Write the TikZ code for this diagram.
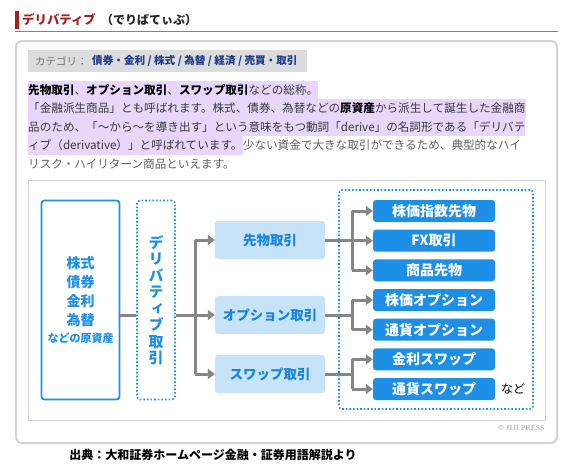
\documentclass[tikz,border=0pt]{standalone}
\usepackage{fontspec}
\setmainfont{Noto Sans CJK JP}
\newfontfamily\vertfont[RawFeature=+vert]{Noto Sans CJK JP}
\newfontfamily\credfont{Liberation Serif}
\usetikzlibrary{arrows.meta}
\definecolor{hdred}{HTML}{A3201B}
\definecolor{lnred}{HTML}{D9605A}
\definecolor{framegray}{HTML}{D4D4D4}
\definecolor{catgray}{HTML}{DCDCDC}
\definecolor{catblue}{HTML}{1F3C8C}
\definecolor{bodytext}{HTML}{3A3A3A}
\definecolor{hlpurple}{HTML}{E8D6FB}
\definecolor{dblue}{HTML}{1E8FE6}
\definecolor{midfill}{HTML}{C6E3F8}
\definecolor{midtext}{HTML}{1A84DA}
\definecolor{arrgray}{HTML}{868686}
\newcommand{\fsz}[1]{\fontsize{#1}{#1}\selectfont}

\begin{document}
\begin{tikzpicture}[x=1pt, y=-1pt,
    txt/.style={inner sep=0pt, anchor=west},
    parline/.style={txt, text=bodytext, font=\fsz{11.6}, minimum height=18.5pt},
    hlline/.style={parline, fill=hlpurple},
    conn/.style={draw=arrgray, line width=3pt},
    arr/.style={conn, -{Triangle[length=7pt, width=10pt]}},
    srcbox/.style={draw=dblue, line width=1.8pt, rounded corners=3pt, fill=white,
        minimum width=78pt, minimum height=199pt, align=center, text=dblue,
        font=\bfseries\fontsize{14}{19}\selectfont},
    groupbox/.style={draw=dblue, line width=1.6pt, dotted, rounded corners=3pt},
    typebox/.style={fill=midfill, rounded corners=3pt, minimum width=110pt,
        minimum height=38pt, text=midtext, font=\bfseries\fsz{13.5}},
    itembox/.style={fill=dblue, rounded corners=3pt, minimum width=122pt,
        minimum height=22pt, text=white, font=\bfseries\fsz{14}}]
  \useasboundingbox (0,0) rectangle (575,471);
  \fill[white] (0,0) rectangle (575,471);

  \fill[hdred] (15,11) rectangle (18.5,29);
  \node[txt, text=hdred, font=\bfseries\fsz{12.4}] (title) at (22,20) {デリバティブ};
  \node[txt, text=black!85, font=\bfseries\fsz{12}] (yomi) at (101,20) {（でりばてぃぶ）};
  \draw[lnred, line width=1pt] (15,31) -- (558,31);

  \draw[framegray, line width=2pt, rounded corners=6pt] (16,41) rectangle (557,443);

  \fill[catgray] (28,50) rectangle (307,72);
  \node[txt, text=black!55, font=\fsz{10.5}] (catlabel) at (35,61) {カテゴリ：};
  \node[txt, text=catblue, font=\bfseries\fsz{10.6}] (catlist) at (92,61)
    {債券・金利 / 株式 / 為替 / 経済 / 売買・取引};

  \node[hlline] (p1) at (28,90)
    {\textbf{\color{black}先物取引}、\textbf{\color{black}オプション取引}、\textbf{\color{black}スワップ取引}などの総称。};
  \node[hlline] (p2) at (28,108.5)
    {「金融派生商品」とも呼ばれます。株式、債券、為替などの\textbf{\color{black}原資産}から派生して誕生した金融商};
  \node[hlline] (p3) at (28,127)
    {品のため、「～から～を導き出す」という意味をもつ動詞「derive」の名詞形である「デリバテ};
  \node[hlline] (p4) at (28,145.5) {ィブ（derivative）」と呼ばれています。};
  \node[parline, text=black!62] (p4b) at (p4.east) {少ない資金で大きな取引ができるため、典型的なハイ};
  \node[parline, text=black!62] (p5) at (28,164) {リスク・ハイリターン商品といえます。};

  \draw[framegray, line width=1pt] (28,180) rectangle (545,420);

  \node[srcbox] (assets) at (80.5,300)
    {株式\\債券\\金利\\為替\\[-2pt]{\fsz{11}などの原資産}};
  \node[groupbox, minimum width=38pt, minimum height=199pt, align=center, text=dblue,
    font=\vertfont\bfseries\fontsize{15}{16.5}\selectfont] (deriv) at (156,300)
    {デ\\リ\\バ\\テ\\ィ\\ブ\\取\\引};

  \node[typebox] (fut) at (270,240) {先物取引};
  \node[typebox] (opt) at (270,315) {オプション取引};
  \node[typebox] (swp) at (270,374) {スワップ取引};

  \node[groupbox, minimum width=194pt, minimum height=219pt] (items) at (436,299.5) {};
  \foreach \nm/\lbl [count=\i from 0] in {idx/株価指数先物, fx/FX取引, cmd/商品先物,
      sopt/株価オプション, copt/通貨オプション, irs/金利スワップ, ccs/通貨スワップ}
    \node[itembox] (\nm) at (434,211+29.67*\i) {\lbl};
  \node[txt, text=black, font=\fsz{12}] (nado) at (501,389) {など};

  \coordinate (b1) at (195,315);
  \coordinate (b2) at (352,240);
  \draw[conn] (assets.east |- opt) -- (deriv.west |- opt);
  \draw[conn] (deriv.east |- opt) -- (b1);
  \draw[conn] (b1 |- fut) -- (b1 |- swp);
  \draw[arr] (b1 |- fut) -- (fut);
  \draw[arr] (b1) -- (opt);
  \draw[arr] (b1 |- swp) -- (swp);

  \draw[conn] (fut) -- (b2);
  \draw[conn] (b2 |- idx) -- (b2 |- cmd);
  \draw[conn] (opt) -- (b2 |- opt);
  \draw[conn] (b2 |- sopt) -- (b2 |- copt);
  \draw[conn] (swp) -- (b2 |- swp);
  \draw[conn] (b2 |- irs) -- (b2 |- ccs);
  \foreach \nm in {idx, fx, cmd, sopt, copt, irs, ccs}
    \draw[arr] (b2 |- \nm) -- (\nm);

  \node[txt, text=black!28, font=\credfont\bfseries\fsz{7.5}] (credit) at (498,428) {© JIJI PRESS};
  \node[inner sep=0pt, text=black, font=\bfseries\fsz{12}] (source) at (213,455)
    {出典：大和証券ホームページ金融・証券用語解説より};
\end{tikzpicture}
\end{document}
